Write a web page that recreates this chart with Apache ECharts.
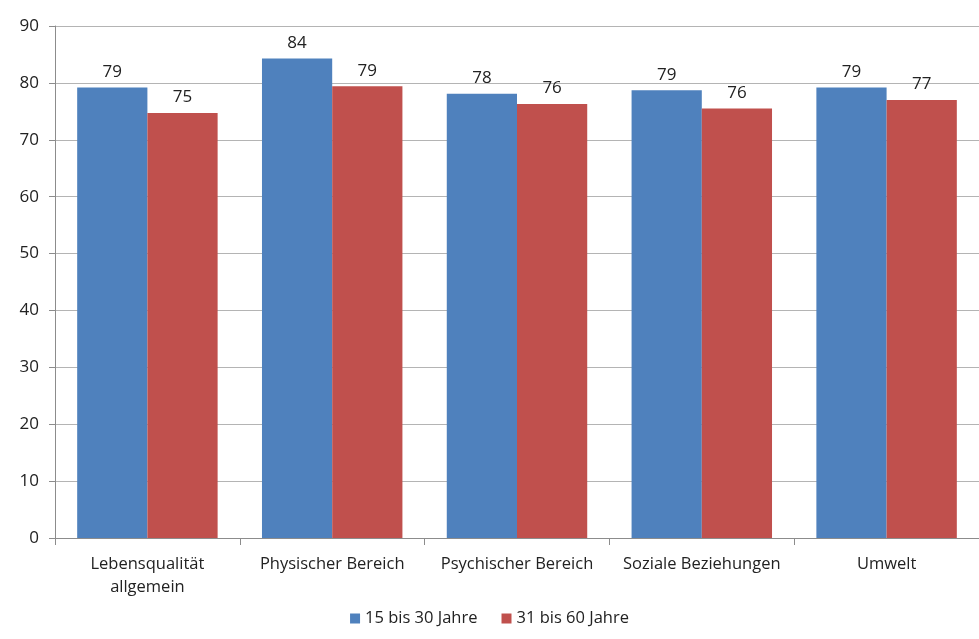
<!DOCTYPE html>
<html><head><meta charset="utf-8">
<script src="https://cdn.jsdelivr.net/npm/echarts@6/dist/echarts.min.js"></script>
<style>html,body{margin:0;padding:0;background:#fff}#c{width:979px;height:639px}</style>
</head><body><div id="c"></div>
<script>
const categories = ["Lebensqualität\nallgemein", "Physischer Bereich", "Psychischer Bereich", "Soziale Beziehungen", "Umwelt"];
const seriesNames = ["15 bis 30 Jahre", "31 bis 60 Jahre"];
const young = [79.2, 84.3, 78.1, 78.7, 79.2];
const older = [74.7, 79.4, 76.3, 75.5, 77.0];
const yTicks = {min: 0, max: 90, interval: 10};

const font = "'Open Sans', 'Noto Sans', sans-serif";
const chart = echarts.init(document.getElementById('c'));
chart.setOption({
  animation: false,
  textStyle: {fontFamily: font},
  grid: {left: 55, right: 0, top: 26, bottom: 101, containLabel: false},
  legend: {
    bottom: 7, left: 'center', itemWidth: 10, itemHeight: 10, itemGap: 24,
    icon: 'rect',
    textStyle: {fontFamily: font, fontSize: 16.5, color: '#222'},
    data: seriesNames
  },
  xAxis: {
    type: 'category', data: categories,
    axisLine: {lineStyle: {color: '#8c8c8c'}},
    axisTick: {show: true, length: 7, lineStyle: {color: '#8c8c8c'}},
    axisLabel: {color: '#222', fontSize: 16.5, fontFamily: font, margin: 15, lineHeight: 23, interval: 0}
  },
  yAxis: {
    type: 'value', min: yTicks.min, max: yTicks.max, interval: yTicks.interval,
    axisLine: {show: true, lineStyle: {color: '#8c8c8c'}},
    axisTick: {show: true, length: 6, lineStyle: {color: '#8c8c8c'}},
    splitLine: {lineStyle: {color: '#b4b4b4'}},
    axisLabel: {color: '#222', fontSize: 17, fontFamily: font, margin: 16}
  },
  series: [
    {name: seriesNames[0], type: 'bar', data: young, barGap: '0%', barCategoryGap: '24%',
     itemStyle: {color: '#4F81BD'},
     label: {show: true, position: 'top', distance: 7, color: '#222', fontSize: 17, fontFamily: font,
             formatter: p => Math.round(p.value)}},
    {name: seriesNames[1], type: 'bar', data: older, barGap: '0%', barCategoryGap: '24%',
     itemStyle: {color: '#C0504D'},
     label: {show: true, position: 'top', distance: 7, color: '#222', fontSize: 17, fontFamily: font,
             formatter: p => Math.round(p.value)}}
  ]
});
</script></body></html>
